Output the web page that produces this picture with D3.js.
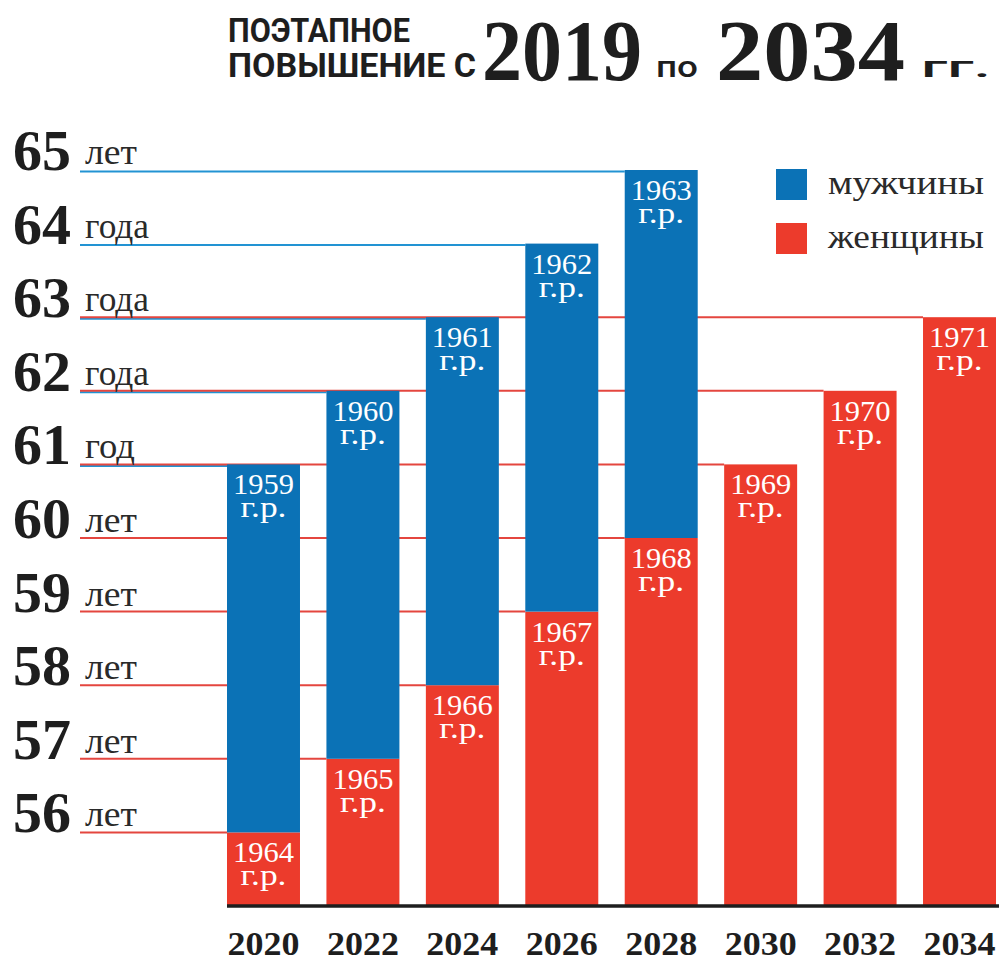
<!DOCTYPE html>
<html>
<head>
<meta charset="utf-8">
<script src="https://cdn.jsdelivr.net/npm/d3@7"></script>
<style>
  html, body { margin: 0; padding: 0; background: #fff; }
  svg { display: block; }
</style>
</head>
<body>
<svg id="chart" width="999" height="962"></svg>
<script>
// ---- data ----
const years = ["2020", "2022", "2024", "2026", "2028", "2030", "2032", "2034"];
const menAge = [61, 62, 63, 64, 65, null, null, null];
const womenAge = [56, 57, 58, 59, 60, 61, 62, 63];
const menBirth = ["1959", "1960", "1961", "1962", "1963", null, null, null];
const womenBirth = ["1964", "1965", "1966", "1967", "1968", "1969", "1970", "1971"];
const ageTicks = [56, 57, 58, 59, 60, 61, 62, 63, 64, 65];
const ageWords = ["лет", "лет", "лет", "лет", "лет", "год", "года", "года", "года", "лет"];
const legendLabels = ["мужчины", "женщины"];
const birthSuffix = "г.р.";

// ---- styles ----
const BLUE = "#0b72b6", RED = "#ec3b2c";
const BLUE_LINE = "#2293d3", RED_LINE = "#e4463f";
const INK = "#1e1e1e";
const SERIF = "'Liberation Serif', 'DejaVu Serif', serif";
const SANS = "'Liberation Sans Narrow', 'Roboto', 'Liberation Sans', sans-serif";
const wordWidth = { "лет": 52, "год": 50, "года": 64 };

const svg = d3.select("#chart");

const y = d3.scaleLinear().domain([55, 65]).range([906, 170]);
const x = d3.scaleBand().domain(years).range([227, 996]).paddingInner(0.266).paddingOuter(0);

const rows = years.map((yr, i) => ({
  yr, men: menAge[i], women: womenAge[i], mb: menBirth[i], wb: womenBirth[i]
}));

function fit(sel, w) {
  sel.attr("textLength", w).attr("lengthAdjust", "spacingAndGlyphs");
}

// ---- title ----
const title = svg.append("g").attr("fill", INK);
title.append("text").attr("x", 228).attr("y", 42)
  .attr("font-family", SANS).attr("font-weight", 700).attr("font-size", 34)
  .call(fit, 182).text("ПОЭТАПНОЕ");
title.append("text").attr("x", 228).attr("y", 77)
  .attr("font-family", SANS).attr("font-weight", 700).attr("font-size", 34)
  .call(fit, 248).text("ПОВЫШЕНИЕ С");
title.append("text").attr("x", 482).attr("y", 80)
  .attr("font-family", SERIF).attr("font-weight", 700).attr("font-size", 86)
  .call(fit, 160).text("2019");
title.append("text").attr("x", 656).attr("y", 77)
  .attr("font-family", SANS).attr("font-weight", 500).attr("font-size", 30)
  .call(fit, 42).text("по");
title.append("text").attr("x", 716).attr("y", 80)
  .attr("font-family", SERIF).attr("font-weight", 700).attr("font-size", 86)
  .call(fit, 189).text("2034");
title.append("text").attr("x", 921).attr("y", 77)
  .attr("font-family", SANS).attr("font-weight", 500).attr("font-size", 30)
  .call(fit, 70).text("гг.");

// ---- gridlines (behind bars) ----
const GX0 = 80;
const grid = svg.append("g");
grid.selectAll("line.men").data(rows.filter(d => d.men != null)).join("line")
  .attr("class", "men")
  .attr("x1", GX0).attr("x2", d => x(d.yr))
  .attr("y1", d => y(d.men) + 1.5).attr("y2", d => y(d.men) + 1.5)
  .attr("stroke", BLUE_LINE).attr("stroke-width", 2);
grid.selectAll("line.women").data(rows).join("line")
  .attr("class", "women")
  .attr("x1", GX0).attr("x2", d => x(d.yr))
  .attr("y1", d => y(d.women)).attr("y2", d => y(d.women))
  .attr("stroke", RED_LINE).attr("stroke-width", 2);

// ---- y labels ----
const yl = svg.append("g");
yl.selectAll("text.num").data(ageTicks).join("text")
  .attr("class", "num")
  .attr("x", 13).attr("y", d => y(d))
  .attr("font-family", SERIF).attr("font-weight", 700).attr("font-size", 58)
  .attr("fill", INK).text(d => d);
yl.selectAll("text.word").data(ageTicks).join("text")
  .attr("class", "word")
  .attr("x", 85).attr("y", d => y(d) - 6)
  .attr("font-family", SERIF).attr("font-size", 36)
  .attr("fill", "#2a2a2a").text((d, i) => ageWords[i])
  .each(function (d, i) { d3.select(this).call(fit, wordWidth[ageWords[i]]); });

// ---- bars ----
const bars = svg.append("g");
bars.selectAll("rect.women").data(rows).join("rect")
  .attr("class", "women")
  .attr("x", d => x(d.yr)).attr("width", x.bandwidth())
  .attr("y", d => y(d.women)).attr("height", d => y(55) - y(d.women))
  .attr("fill", RED);
bars.selectAll("rect.men").data(rows.filter(d => d.men != null)).join("rect")
  .attr("class", "men")
  .attr("x", d => x(d.yr)).attr("width", x.bandwidth())
  .attr("y", d => y(d.men)).attr("height", d => y(d.women) - y(d.men))
  .attr("fill", BLUE);

// ---- bar labels ----
function addLabels(data, key, birthKey) {
  const g = svg.append("g").attr("fill", "#fff").attr("font-family", SERIF)
    .attr("font-size", 30).attr("text-anchor", "middle");
  const cx = d => x(d.yr) + x.bandwidth() / 2;
  g.selectAll("text.yr").data(data).join("text").attr("class", "yr")
    .attr("x", cx).attr("y", d => y(d[key]) + 30).text(d => d[birthKey])
    .call(fit, 61);
  g.selectAll("text.gr").data(data).join("text").attr("class", "gr")
    .attr("x", cx).attr("y", d => y(d[key]) + 53).text(birthSuffix)
    .call(fit, 46);
}
addLabels(rows, "women", "wb");
addLabels(rows.filter(d => d.men != null), "men", "mb");

// ---- baseline ----
svg.append("line").attr("x1", 227).attr("x2", 999)
  .attr("y1", y(55)).attr("y2", y(55))
  .attr("stroke", INK).attr("stroke-width", 3.5);

// ---- x axis ----
const xAxis = svg.append("g").attr("transform", "translate(0,955)")
  .call(d3.axisBottom(x).tickSize(0).tickPadding(0));
xAxis.select(".domain").remove();
xAxis.selectAll("text")
  .attr("dy", 0).attr("y", 0)
  .attr("font-family", SERIF).attr("font-weight", 700).attr("font-size", 34)
  .attr("fill", INK).call(fit, 72);

// ---- legend ----
const legend = svg.append("g");
const legendColors = [BLUE, RED];
const legendY = [169, 223];
legend.selectAll("rect").data(legendLabels).join("rect")
  .attr("x", 776).attr("y", (d, i) => legendY[i])
  .attr("width", 31).attr("height", 31)
  .attr("fill", (d, i) => legendColors[i]);
legend.selectAll("text").data(legendLabels).join("text")
  .attr("x", 828).attr("y", (d, i) => legendY[i] + 25)
  .attr("font-family", SERIF).attr("font-size", 34)
  .attr("fill", "#2a2a2a").text(d => d)
  .call(fit, 156);
</script>
</body>
</html>
